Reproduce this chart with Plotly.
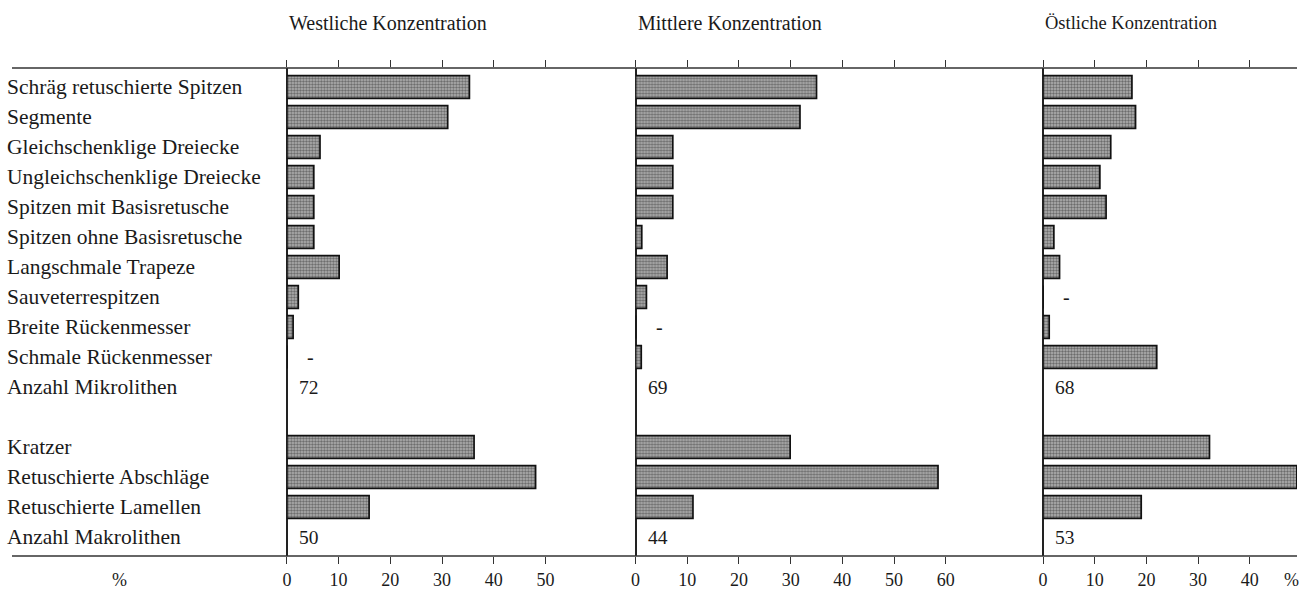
import plotly.graph_objects as go

# ---------------- data ----------------
micro_cats = ["Schräg retuschierte Spitzen", "Segmente", "Gleichschenklige Dreiecke",
              "Ungleichschenklige Dreiecke", "Spitzen mit Basisretusche",
              "Spitzen ohne Basisretusche", "Langschmale Trapeze", "Sauveterrespitzen",
              "Breite Rückenmesser", "Schmale Rückenmesser"]
micro_count_label = "Anzahl Mikrolithen"
macro_cats = ["Kratzer", "Retuschierte Abschläge", "Retuschierte Lamellen"]
macro_count_label = "Anzahl Makrolithen"

panels = ["Westliche Konzentration", "Mittlere Konzentration", "Östliche Konzentration"]

west_micro = [35.3, 31.1, 6.4, 5.2, 5.2, 5.2, 10.1, 2.2, 1.2, 0]
mid_micro = [35.0, 31.8, 7.2, 7.2, 7.2, 1.2, 6.1, 2.1, 0, 1.1]
east_micro = [17.2, 17.9, 13.1, 11.0, 12.2, 2.1, 3.2, 0, 1.2, 22.0]

west_macro = [36.2, 48.1, 15.9]
mid_macro = [29.9, 58.5, 11.1]
east_macro = [32.2, 49.1, 19.0]

n_micro = [72, 69, 68]
n_macro = [50, 44, 53]

tick_sets = [[0, 10, 20, 30, 40, 50], [0, 10, 20, 30, 40, 50, 60], [0, 10, 20, 30, 40]]
x_ranges = [[0, 62], [0, 70], [0, 49.15]]

# ---------------- layout helpers ----------------
W, H = 1303, 593
T, B = 68, 37
PLOT_H = H - T - B
PX_PER_UNIT = 5.19
zero_px = [283, 633, 1042]


def py(pixel_from_top):
    """pixel row -> paper y"""
    return (H - B - pixel_from_top) / PLOT_H


row_labels = micro_cats + [micro_count_label, None] + macro_cats + [macro_count_label]
pos = {lab: i for i, lab in enumerate(row_labels) if lab is not None}
micro_y = [pos[c] for c in micro_cats]
macro_y = [pos[c] for c in macro_cats]

FONT = "Liberation Serif, Times New Roman, serif"
INK = "#1a1a1a"

bar_marker = dict(
    color="#8f8f8f",
    line=dict(color="#111111", width=1.7),
    pattern=dict(shape=".", fgcolor="#262626", bgcolor="#b2b2b2", size=3, solidity=0.5),
)

fig = go.Figure()
micro_all = [west_micro, mid_micro, east_micro]
macro_all = [west_macro, mid_macro, east_macro]
title_sizes = [20, 20, 18.5]

annotations = []
for k in range(3):
    xa = "x" if k == 0 else f"x{k+1}"
    fig.add_trace(go.Bar(x=micro_all[k], y=micro_y, orientation="h", width=0.76,
                         marker=bar_marker, xaxis=xa, yaxis="y", showlegend=False,
                         hoverinfo="x+y"))
    fig.add_trace(go.Bar(x=macro_all[k], y=macro_y, orientation="h", width=0.76,
                         marker=bar_marker, xaxis=xa, yaxis="y", showlegend=False,
                         hoverinfo="x+y"))
    for v, yy in zip(micro_all[k], micro_y):
        if v == 0:
            annotations.append(dict(x=4.6, y=yy, xref=xa, yref="y", text="-", showarrow=False,
                                    xanchor="center", yanchor="middle",
                                    font=dict(family=FONT, size=20, color=INK)))
    annotations.append(dict(x=2.0, y=pos[micro_count_label], xref=xa, yref="y",
                            text=str(n_micro[k]), showarrow=False, xanchor="left",
                            yanchor="middle", font=dict(family=FONT, size=19.5, color=INK)))
    annotations.append(dict(x=2.0, y=pos[macro_count_label], xref=xa, yref="y",
                            text=str(n_macro[k]), showarrow=False, xanchor="left",
                            yanchor="middle", font=dict(family=FONT, size=19.5, color=INK)))
    annotations.append(dict(x=0, y=py(23), xref=xa, yref="paper", text=panels[k],
                            showarrow=False, xanchor="left", yanchor="middle",
                            font=dict(family=FONT, size=title_sizes[k], color=INK)))

for lab in row_labels:
    if lab is None:
        continue
    annotations.append(dict(x=0, y=pos[lab], xref="paper", yref="y", text=lab,
                            showarrow=False, xanchor="left", yanchor="middle",
                            font=dict(family=FONT, size=21.5, color=INK)))

for xp in (115, 1291):
    annotations.append(dict(x=xp / W, y=py(580), xref="paper", yref="paper", text="%",
                            showarrow=False, xanchor="center", yanchor="middle",
                            font=dict(family=FONT, size=18, color=INK)))

layout_axes = {}
for k in range(3):
    name = "xaxis" if k == 0 else f"xaxis{k+1}"
    r = x_ranges[k]
    d0 = zero_px[k] / W
    d1 = (zero_px[k] + (r[1] - r[0]) * PX_PER_UNIT) / W
    layout_axes[name] = dict(
        domain=[d0, min(d1, 1.0)], range=r, anchor="y",
        tickvals=tick_sets[k], ticktext=[str(t) for t in tick_sets[k]],
        ticks="outside", ticklen=7, tickwidth=1.3, tickcolor="#333333",
        mirror="ticks", showline=False, showgrid=False,
        zeroline=True, zerolinecolor="#222222", zerolinewidth=1.6,
        tickfont=dict(family=FONT, size=18, color=INK),
        ticklabelstandoff=0, fixedrange=True,
    )

shapes = [
    dict(type="line", xref="paper", yref="paper", x0=7 / W, x1=1297 / W, y0=1, y1=1,
         line=dict(color="#333333", width=1.6)),
    dict(type="line", xref="paper", yref="paper", x0=7 / W, x1=1297 / W, y0=0, y1=0,
         line=dict(color="#333333", width=1.6)),
]

fig.update_layout(
    width=W, height=H,
    margin=dict(l=0, r=0, t=T, b=B, pad=0),
    paper_bgcolor="white", plot_bgcolor="white",
    yaxis=dict(range=[15.633, -0.633], visible=False, fixedrange=True),
    annotations=annotations, shapes=shapes,
    bargap=0.24, showlegend=False,
    **layout_axes,
)

fig.write_html(
    "out.html",
    config={"displayModeBar": False},
    post_script="document.body.style.margin='0';document.body.style.padding='0';"
                "document.documentElement.style.overflow='hidden';",
)
